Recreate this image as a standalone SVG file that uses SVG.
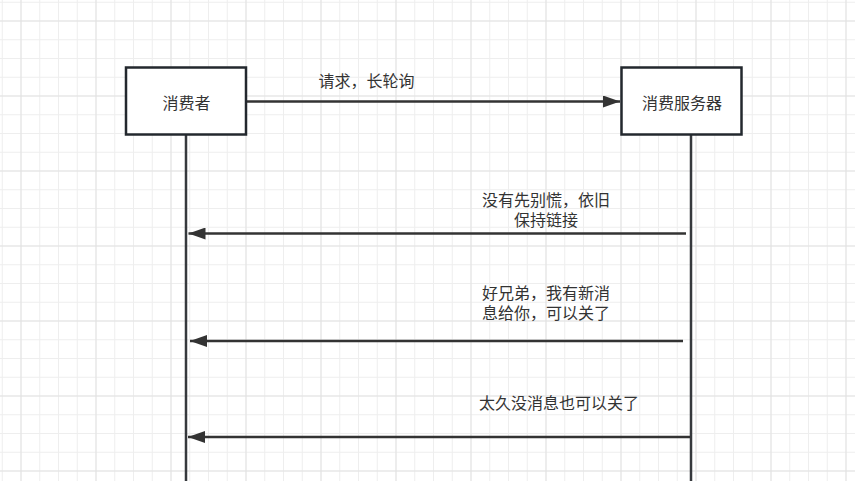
<svg xmlns="http://www.w3.org/2000/svg" width="855" height="481" viewBox="0 0 855 481">
<defs>
<pattern id="minor" x="1.75" y="1.75" width="18.75" height="18.75" patternUnits="userSpaceOnUse">
<path d="M0.5 0 V18.75 M0 0.5 H18.75" stroke="#eeeeee" stroke-width="1" fill="none"/>
</pattern>
<pattern id="major" x="20.5" y="20.5" width="75" height="75" patternUnits="userSpaceOnUse">
<path d="M0.5 0 V75 M0 0.5 H75" stroke="#e2e2e2" stroke-width="1" fill="none"/>
</pattern>
<marker id="arrow" markerUnits="userSpaceOnUse" markerWidth="18" markerHeight="12" refX="17" refY="6" orient="auto">
<path d="M0,0 L17,6 L0,12 Z" fill="#333333"/>
</marker>
<style>
.box{fill:#ffffff;stroke:#23282e;stroke-width:2.5}
.life{stroke:#36393d;stroke-width:2.5;fill:none}
.msg{stroke:#333333;stroke-width:2.5;fill:none;marker-end:url(#arrow)}
text{font-family:"Noto Sans CJK SC","Noto Sans",sans-serif;font-size:16px;fill:#333333;text-anchor:middle;dominant-baseline:central}
</style>
</defs>
<rect width="855" height="481" fill="#ffffff"/>
<rect width="855" height="481" fill="url(#minor)"/>
<rect width="855" height="481" fill="url(#major)"/>
<g id="connectors">
<line class="life" x1="186" y1="135" x2="186" y2="481"/>
<line class="life" x1="691" y1="135" x2="691" y2="481"/>
<line class="msg" x1="247" y1="101.5" x2="620" y2="101.5"/>
<line class="msg" x1="686" y1="233.5" x2="188.5" y2="233.5"/>
<line class="msg" x1="683" y1="341" x2="190" y2="341"/>
<line class="msg" x1="690" y1="437" x2="188" y2="437"/>
</g>
<g id="consumer">
<rect class="box" x="126" y="67.5" width="120" height="67"/>
<text x="186.5" y="102">消费者</text>
</g>
<g id="server">
<rect class="box" x="621.5" y="67.5" width="120" height="67"/>
<text x="682" y="102">消费服务器</text>
</g>
<g id="labels">
<text x="366.5" y="80">请求，长轮询</text>
<text x="546" y="199">没有先别慌，依旧<tspan x="546" dy="20">保持链接</tspan></text>
<text x="546" y="292">好兄弟，我有新消<tspan x="546" dy="20">息给你，可以关了</tspan></text>
<text x="559" y="402">太久没消息也可以关了</text>
</g>
</svg>
